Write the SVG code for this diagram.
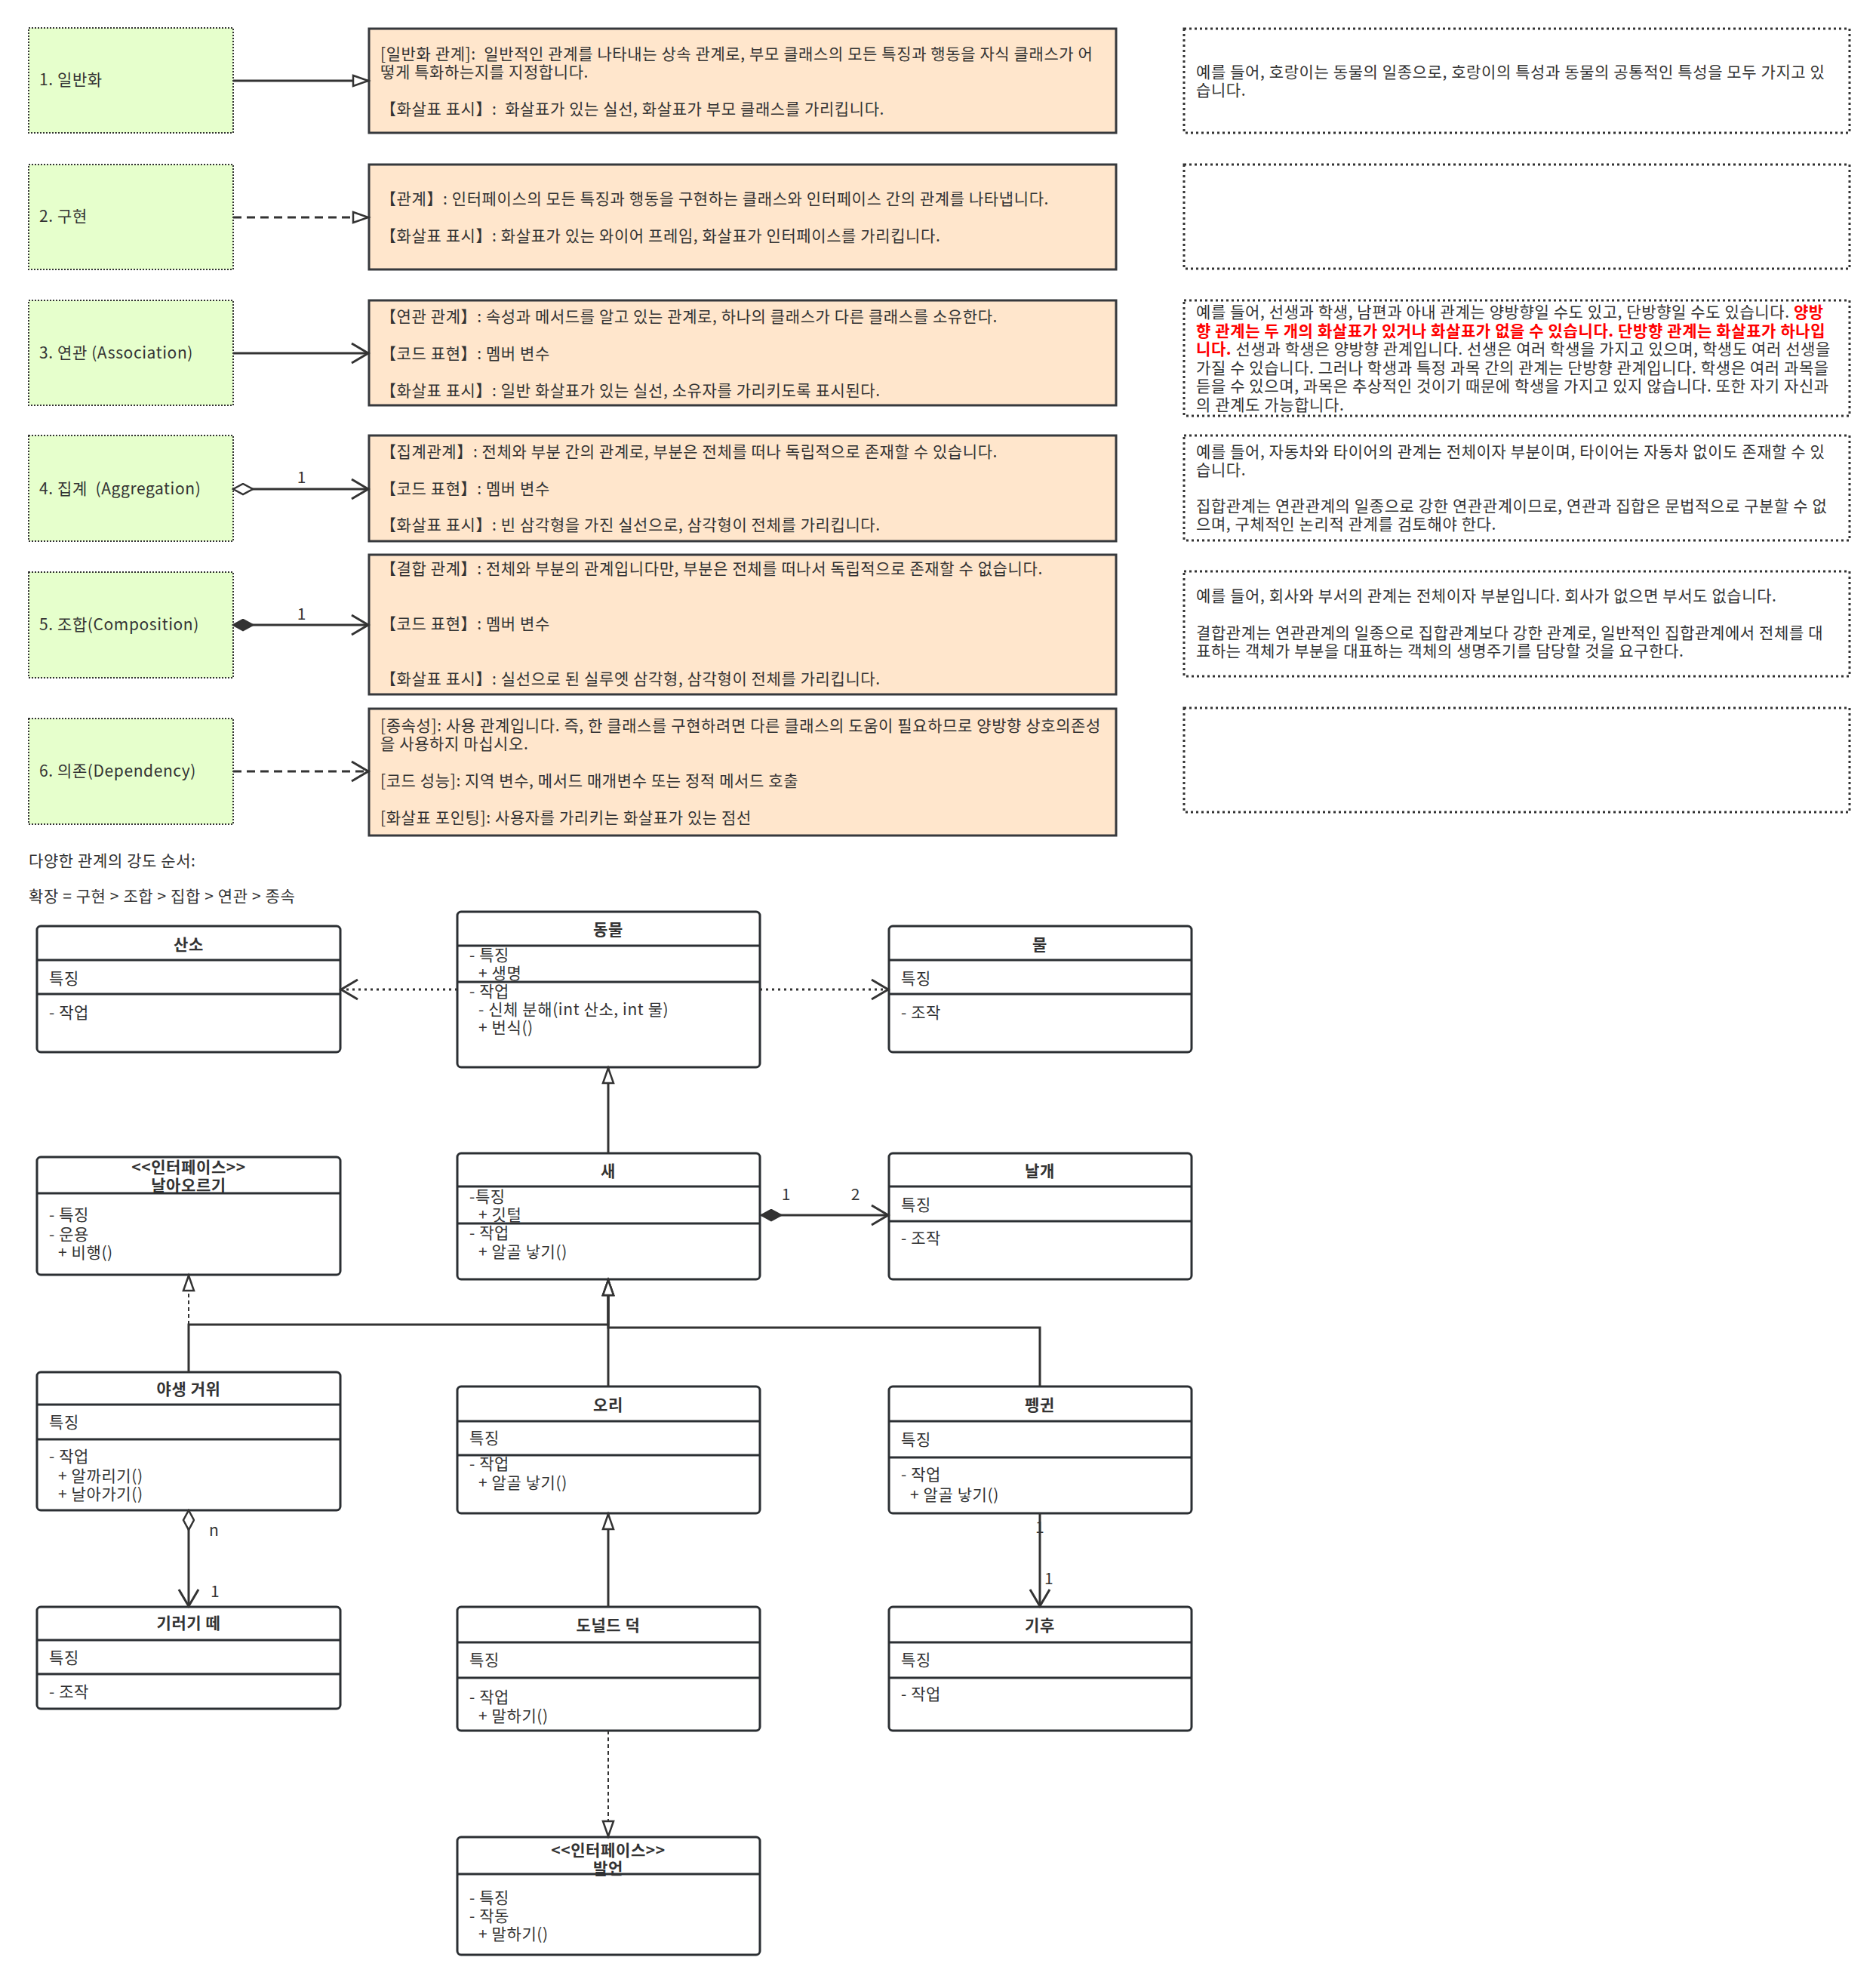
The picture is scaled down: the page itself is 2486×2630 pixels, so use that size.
<svg xmlns="http://www.w3.org/2000/svg" width="2486" height="2630" viewBox="0 0 2486 2630">
<style>
text { font-family: "Noto Sans CJK KR", "Noto Sans", sans-serif; font-size: 21px; letter-spacing: 0.6px; fill: #333; }
.b { font-weight: bold; }
.c { text-anchor: middle; }
.green { fill: #e6ffcc; stroke: #333; stroke-width: 2; stroke-dasharray: 2 2; }
.orange { fill: #ffe6cc; stroke: #36393d; stroke-width: 3; }
.note { fill: #fff; stroke: #333; stroke-width: 3; stroke-dasharray: 3 4; }
.cls { fill: #fff; stroke: #2b2f33; stroke-width: 3; }
.sep { stroke: #2b2f33; stroke-width: 3; }
.ln { fill: none; stroke: #333; stroke-width: 3; }
.dash { stroke-dasharray: 11 7; }
.dot { stroke-dasharray: 3 5; }
.dsh2 { stroke-width: 2; stroke-dasharray: 5 4; }
.red { fill: #ff0000; font-weight: bold; }
</style>
<defs>
<marker id="tri" markerUnits="userSpaceOnUse" markerWidth="26" markerHeight="20" refX="22" refY="9" orient="auto"><path d="M2,2 L22,9 L2,16 Z" fill="#fff" stroke="#333" stroke-width="2.5"/></marker>
<marker id="open" markerUnits="userSpaceOnUse" markerWidth="28" markerHeight="32" refX="24" refY="15" orient="auto"><path d="M2,2 L24,15 L2,28" fill="none" stroke="#333" stroke-width="3"/></marker>
<marker id="dia" markerUnits="userSpaceOnUse" markerWidth="32" markerHeight="18" refX="2" refY="8" orient="auto"><path d="M2,8 L15,1 L28,8 L15,15 Z" fill="#fff" stroke="#333" stroke-width="2.5"/></marker>
<marker id="diaf" markerUnits="userSpaceOnUse" markerWidth="32" markerHeight="18" refX="2" refY="8" orient="auto"><path d="M2,8 L15,1 L28,8 L15,15 Z" fill="#333" stroke="#333" stroke-width="2.5"/></marker>
</defs>
<rect width="2486" height="2630" fill="#fff"/>

<!-- Legend rows: labels -->
<g id="label1"><rect class="green" x="38" y="37" width="271" height="139"/><text x="52" y="113">1. 일반화</text></g>
<g id="label2"><rect class="green" x="38" y="218" width="271" height="139"/><text x="52" y="294">2. 구현</text></g>
<g id="label3"><rect class="green" x="38" y="398" width="271" height="139"/><text x="52" y="475">3. 연관 (Association)</text></g>
<g id="label4"><rect class="green" x="38" y="577" width="271" height="140"/><text x="52" y="655" xml:space="preserve">4. 집계  (Aggregation)</text></g>
<g id="label5"><rect class="green" x="38" y="758" width="271" height="140"/><text x="52" y="835">5. 조합(Composition)</text></g>
<g id="label6"><rect class="green" x="38" y="952" width="271" height="140"/><text x="52" y="1029">6. 의존(Dependency)</text></g>

<!-- Legend rows: descriptions -->
<g id="desc1"><rect class="orange" x="489" y="38" width="990" height="138"/>
<text x="504" y="79" xml:space="preserve">[일반화 관계]:  일반적인 관계를 나타내는 상속 관계로, 부모 클래스의 모든 특징과 행동을 자식 클래스가 어</text>
<text x="504" y="103">떻게 특화하는지를 지정합니다.</text>
<text x="504" y="152" xml:space="preserve">【화살표 표시】:  화살표가 있는 실선, 화살표가 부모 클래스를 가리킵니다.</text></g>
<g id="desc2"><rect class="orange" x="489" y="218" width="990" height="139"/>
<text x="504" y="271">【관계】: 인터페이스의 모든 특징과 행동을 구현하는 클래스와 인터페이스 간의 관계를 나타냅니다.</text>
<text x="504" y="320">【화살표 표시】: 화살표가 있는 와이어 프레임, 화살표가 인터페이스를 가리킵니다.</text></g>
<g id="desc3"><rect class="orange" x="489" y="398" width="990" height="139"/>
<text x="504" y="427">【연관 관계】: 속성과 메서드를 알고 있는 관계로, 하나의 클래스가 다른 클래스를 소유한다.</text>
<text x="504" y="476">【코드 표현】: 멤버 변수</text>
<text x="504" y="525">【화살표 표시】: 일반 화살표가 있는 실선, 소유자를 가리키도록 표시된다.</text></g>
<g id="desc4"><rect class="orange" x="489" y="577" width="990" height="140"/>
<text x="504" y="606">【집계관계】: 전체와 부분 간의 관계로, 부분은 전체를 떠나 독립적으로 존재할 수 있습니다.</text>
<text x="504" y="655">【코드 표현】: 멤버 변수</text>
<text x="504" y="703">【화살표 표시】: 빈 삼각형을 가진 실선으로, 삼각형이 전체를 가리킵니다.</text></g>
<g id="desc5"><rect class="orange" x="489" y="735" width="990" height="185"/>
<text x="504" y="761">【결합 관계】: 전체와 부분의 관계입니다만, 부분은 전체를 떠나서 독립적으로 존재할 수 없습니다.</text>
<text x="504" y="834">【코드 표현】: 멤버 변수</text>
<text x="504" y="907">【화살표 표시】: 실선으로 된 실루엣 삼각형, 삼각형이 전체를 가리킵니다.</text></g>
<g id="desc6"><rect class="orange" x="489" y="939" width="990" height="168"/>
<text x="504" y="969">[종속성]: 사용 관계입니다. 즉, 한 클래스를 구현하려면 다른 클래스의 도움이 필요하므로 양방향 상호의존성</text>
<text x="504" y="993">을 사용하지 마십시오.</text>
<text x="504" y="1042">[코드 성능]: 지역 변수, 메서드 매개변수 또는 정적 메서드 호출</text>
<text x="504" y="1091">[화살표 포인팅]: 사용자를 가리키는 화살표가 있는 점선</text></g>

<!-- Legend rows: examples -->
<g id="note1"><rect class="note" x="1569" y="38" width="882" height="138"/>
<text x="1585" y="103">예를 들어, 호랑이는 동물의 일종으로, 호랑이의 특성과 동물의 공통적인 특성을 모두 가지고 있</text>
<text x="1585" y="127">습니다.</text></g>
<g id="note2"><rect class="note" x="1569" y="218" width="882" height="138"/></g>
<g id="note3"><rect class="note" x="1569" y="398" width="882" height="153"/>
<text x="1585" y="421">예를 들어, 선생과 학생, 남편과 아내 관계는 양방향일 수도 있고, 단방향일 수도 있습니다. <tspan class="red">양방</tspan></text>
<text x="1585" y="445.5" class="red">향 관계는 두 개의 화살표가 있거나 화살표가 없을 수 있습니다. 단방향 관계는 화살표가 하나입</text>
<text x="1585" y="470"><tspan class="red">니다.</tspan> 선생과 학생은 양방향 관계입니다. 선생은 여러 학생을 가지고 있으며, 학생도 여러 선생을</text>
<text x="1585" y="494.5">가질 수 있습니다. 그러나 학생과 특정 과목 간의 관계는 단방향 관계입니다. 학생은 여러 과목을</text>
<text x="1585" y="519">듣을 수 있으며, 과목은 추상적인 것이기 때문에 학생을 가지고 있지 않습니다. 또한 자기 자신과</text>
<text x="1585" y="543.5">의 관계도 가능합니다.</text></g>
<g id="note4"><rect class="note" x="1569" y="577" width="882" height="139"/>
<text x="1585" y="606">예를 들어, 자동차와 타이어의 관계는 전체이자 부분이며, 타이어는 자동차 없이도 존재할 수 있</text>
<text x="1585" y="630">습니다.</text>
<text x="1585" y="678">집합관계는 연관관계의 일종으로 강한 연관관계이므로, 연관과 집합은 문법적으로 구분할 수 없</text>
<text x="1585" y="702">으며, 구체적인 논리적 관계를 검토해야 한다.</text></g>
<g id="note5"><rect class="note" x="1569" y="757" width="882" height="139"/>
<text x="1585" y="797">예를 들어, 회사와 부서의 관계는 전체이자 부분입니다. 회사가 없으면 부서도 없습니다.</text>
<text x="1585" y="846">결합관계는 연관관계의 일종으로 집합관계보다 강한 관계로, 일반적인 집합관계에서 전체를 대</text>
<text x="1585" y="870">표하는 객체가 부분을 대표하는 객체의 생명주기를 담당할 것을 요구한다.</text></g>
<g id="note6"><rect class="note" x="1569" y="938" width="882" height="138"/></g>

<g id="caption">
<text x="38" y="1148">다양한 관계의 강도 순서:</text>
<text x="38" y="1195">확장 = 구현 &gt; 조합 &gt; 집합 &gt; 연관 &gt; 종속</text>
</g>

<!-- UML classes -->
<g id="cls-sanso"><rect class="cls" x="49" y="1227" width="402" height="167" rx="5"/>
<line class="sep" x1="49" y1="1272" x2="451" y2="1272"/><line class="sep" x1="49" y1="1317" x2="451" y2="1317"/>
<text class="b c" x="250" y="1259">산소</text>
<text x="65" y="1304">특징</text>
<text x="65" y="1349">- 작업</text></g>

<g id="cls-animal"><rect class="cls" x="606" y="1208" width="401" height="206" rx="5"/>
<line class="sep" x1="606" y1="1253" x2="1007" y2="1253"/><line class="sep" x1="606" y1="1301" x2="1007" y2="1301"/>
<text class="b c" x="806" y="1239">동물</text>
<text x="622" y="1273">- 특징</text>
<text x="634" y="1297">+ 생명</text>
<text x="622" y="1321">- 작업</text>
<text x="634" y="1345">- 신체 분해(int 산소, int 물)</text>
<text x="634" y="1369">+ 번식()</text></g>

<g id="cls-water"><rect class="cls" x="1178" y="1227" width="401" height="167" rx="5"/>
<line class="sep" x1="1178" y1="1272" x2="1579" y2="1272"/><line class="sep" x1="1178" y1="1317" x2="1579" y2="1317"/>
<text class="b c" x="1378" y="1259">물</text>
<text x="1194" y="1304">특징</text>
<text x="1194" y="1349">- 조작</text></g>

<g id="cls-fly"><rect class="cls" x="49" y="1533" width="402" height="156" rx="5"/>
<line class="sep" x1="49" y1="1581" x2="451" y2="1581"/>
<text class="b c" x="250" y="1554">&lt;&lt;인터페이스&gt;&gt;</text>
<text class="b c" x="250" y="1578">날아오르기</text>
<text x="65" y="1617">- 특징</text>
<text x="65" y="1643">- 운용</text>
<text x="77" y="1667">+ 비행()</text></g>

<g id="cls-bird"><rect class="cls" x="606" y="1528" width="401" height="167" rx="5"/>
<line class="sep" x1="606" y1="1572" x2="1007" y2="1572"/><line class="sep" x1="606" y1="1621" x2="1007" y2="1621"/>
<text class="b c" x="806" y="1559">새</text>
<text x="622" y="1593">-특징</text>
<text x="634" y="1617">+ 깃털</text>
<text x="622" y="1641">- 작업</text>
<text x="634" y="1666">+ 알골 낳기()</text></g>

<g id="cls-wing"><rect class="cls" x="1178" y="1528" width="401" height="167" rx="5"/>
<line class="sep" x1="1178" y1="1572" x2="1579" y2="1572"/><line class="sep" x1="1178" y1="1618" x2="1579" y2="1618"/>
<text class="b c" x="1378" y="1559">날개</text>
<text x="1194" y="1604">특징</text>
<text x="1194" y="1648">- 조작</text></g>

<g id="cls-goose"><rect class="cls" x="49" y="1818" width="402" height="183" rx="5"/>
<line class="sep" x1="49" y1="1861" x2="451" y2="1861"/><line class="sep" x1="49" y1="1907" x2="451" y2="1907"/>
<text class="b c" x="250" y="1848">야생 거위</text>
<text x="65" y="1892">특징</text>
<text x="65" y="1937">- 작업</text>
<text x="77" y="1963">+ 알까리기()</text>
<text x="77" y="1987">+ 날아가기()</text></g>

<g id="cls-duck"><rect class="cls" x="606" y="1837" width="401" height="168" rx="5"/>
<line class="sep" x1="606" y1="1883" x2="1007" y2="1883"/><line class="sep" x1="606" y1="1928" x2="1007" y2="1928"/>
<text class="b c" x="806" y="1869">오리</text>
<text x="622" y="1913">특징</text>
<text x="622" y="1947">- 작업</text>
<text x="634" y="1972">+ 알골 낳기()</text></g>

<g id="cls-penguin"><rect class="cls" x="1178" y="1837" width="401" height="168" rx="5"/>
<line class="sep" x1="1178" y1="1883" x2="1579" y2="1883"/><line class="sep" x1="1178" y1="1931" x2="1579" y2="1931"/>
<text class="b c" x="1378" y="1869">펭귄</text>
<text x="1194" y="1915">특징</text>
<text x="1194" y="1961">- 작업</text>
<text x="1206" y="1988">+ 알골 낳기()</text></g>

<g id="cls-flock"><rect class="cls" x="49" y="2129" width="402" height="135" rx="5"/>
<line class="sep" x1="49" y1="2173" x2="451" y2="2173"/><line class="sep" x1="49" y1="2218" x2="451" y2="2218"/>
<text class="b c" x="250" y="2158">기러기 떼</text>
<text x="65" y="2204">특징</text>
<text x="65" y="2249">- 조작</text></g>

<g id="cls-donald"><rect class="cls" x="606" y="2129" width="401" height="164" rx="5"/>
<line class="sep" x1="606" y1="2176" x2="1007" y2="2176"/><line class="sep" x1="606" y1="2223" x2="1007" y2="2223"/>
<text class="b c" x="806" y="2161">도널드 덕</text>
<text x="622" y="2207">특징</text>
<text x="622" y="2256">- 작업</text>
<text x="634" y="2281">+ 말하기()</text></g>

<g id="cls-climate"><rect class="cls" x="1178" y="2129" width="401" height="164" rx="5"/>
<line class="sep" x1="1178" y1="2176" x2="1579" y2="2176"/><line class="sep" x1="1178" y1="2223" x2="1579" y2="2223"/>
<text class="b c" x="1378" y="2161">기후</text>
<text x="1194" y="2207">특징</text>
<text x="1194" y="2252">- 작업</text></g>

<g id="cls-speak"><rect class="cls" x="606" y="2434" width="401" height="156" rx="5"/>
<line class="sep" x1="606" y1="2483" x2="1007" y2="2483"/>
<text class="b c" x="806" y="2459">&lt;&lt;인터페이스&gt;&gt;</text>
<text class="b c" x="806" y="2483">발언</text>
<text x="622" y="2522">- 특징</text>
<text x="622" y="2546">- 작동</text>
<text x="634" y="2570">+ 말하기()</text></g>

<!-- Connectors -->
<g id="connectors">
<path class="ln" d="M309,107 L488,107" marker-end="url(#tri)"/>
<path class="ln dash" d="M309,288 L488,288" marker-end="url(#tri)"/>
<path class="ln" d="M309,468 L488,468" marker-end="url(#open)"/>
<path class="ln" d="M309,648 L488,648" marker-start="url(#dia)" marker-end="url(#open)"/>
<path class="ln" d="M309,828 L488,828" marker-start="url(#diaf)" marker-end="url(#open)"/>
<path class="ln dash" d="M309,1022 L488,1022" marker-end="url(#open)"/>
<text class="c" x="400" y="640">1</text>
<text class="c" x="400" y="821">1</text>

<path class="ln dot" d="M606,1311 L452,1311" marker-end="url(#open)"/>
<path class="ln dot" d="M1007,1311 L1177,1311" marker-end="url(#open)"/>
<path class="ln" d="M806,1528 L806,1415" marker-end="url(#tri)"/>
<path class="ln" d="M1009,1610 L1177,1610" marker-start="url(#diaf)" marker-end="url(#open)"/>
<text class="c" x="1042" y="1590">1</text>
<text class="c" x="1134" y="1590">2</text>
<path class="ln dsh2" d="M250,1818 L250,1690" marker-end="url(#tri)"/>
<path class="ln" d="M250,1818 L250,1755 L806,1755 L806,1696" marker-end="url(#tri)"/>
<path class="ln" d="M806,1837 L806,1696" marker-end="url(#tri)"/>
<path class="ln" d="M1378,1837 L1378,1759 L806,1759 L806,1696" marker-end="url(#tri)"/>
<path class="ln" d="M250,2001 L250,2128" marker-start="url(#dia)" marker-end="url(#open)"/>
<text x="277" y="2035">n</text>
<text x="279" y="2116">1</text>
<path class="ln" d="M806,2129 L806,2006" marker-end="url(#tri)"/>
<text x="1372" y="2031">1</text>
<path class="ln" d="M1378,2005 L1378,2128" marker-end="url(#open)"/>
<text x="1384" y="2099">1</text>
<path class="ln dsh2" d="M806,2293 L806,2433" marker-end="url(#tri)"/>
</g>
</svg>
